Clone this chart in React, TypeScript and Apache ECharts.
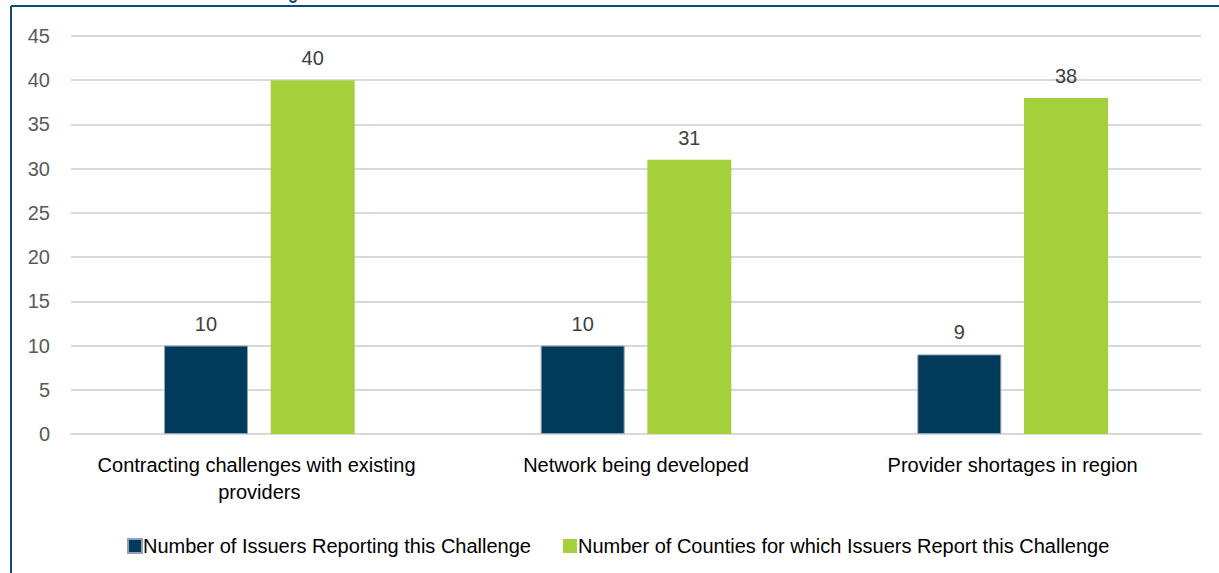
import React, { useEffect, useRef } from "react";
import * as echarts from "echarts";

const categories = [
  "Contracting challenges with existing providers",
  "Network being developed",
  "Provider shortages in region",
];
const issuers = [10, 10, 9];
const counties = [40, 31, 38];
const seriesNames = [
  "Number of Issuers Reporting this Challenge",
  "Number of Counties for which Issuers Report this Challenge",
];

const FONT = "'Liberation Sans Narrow', 'Arial Narrow', 'Liberation Sans', Arial, sans-serif";

export default function App() {
  const ref = useRef<HTMLDivElement>(null);
  useEffect(() => {
    if (!ref.current) return;
    const chart = echarts.init(ref.current, undefined, { renderer: "svg" });
    chart.setOption({
      animation: false,
      backgroundColor: "#ffffff",
      textStyle: { fontFamily: FONT },
      grid: { left: 71, right: 18, top: 36, bottom: 139, containLabel: false },
      legend: {
        left: 122,
        top: 531,
        itemWidth: 14,
        itemHeight: 14,
        itemGap: 32,
        icon: "rect",
        textStyle: { fontFamily: FONT, fontSize: 20, color: "#000000", padding: [0, 0, 0, -4] },
        data: seriesNames,
      },
      xAxis: {
        type: "category",
        data: categories,
        axisLine: { lineStyle: { color: "#d9d9d9", width: 2 } },
        axisTick: { show: false },
        axisLabel: {
          fontFamily: FONT,
          fontSize: 20,
          color: "#000000",
          margin: 17,
          lineHeight: 27,
          width: 340,
          overflow: "break",
          interval: 0,
        },
      },
      yAxis: {
        type: "value",
        min: 0,
        max: 45,
        interval: 5,
        axisLine: { show: false },
        axisTick: { show: false },
        splitLine: { lineStyle: { color: "#d9d9d9", width: 2 } },
        axisLabel: { fontFamily: FONT, fontSize: 20, color: "#595959", margin: 21 },
      },
      series: [
        {
          name: seriesNames[0],
          type: "bar",
          data: issuers,
          barWidth: 84,
          barGap: "27%",
          itemStyle: { color: "#023a5c", borderColor: "#8fa3b5", borderWidth: 1 },
          label: { show: true, position: "top", distance: 12, fontFamily: FONT, fontSize: 20, color: "#404040" },
        },
        {
          name: seriesNames[1],
          type: "bar",
          data: counties,
          barWidth: 84,
          itemStyle: { color: "#a4d03c" },
          label: { show: true, position: "top", distance: 12, fontFamily: FONT, fontSize: 20, color: "#404040" },
        },
      ],
      graphic: [
        { type: "line", shape: { x1: 11, y1: 6, x2: 1219, y2: 6 }, style: { stroke: "#0f4c75", lineWidth: 2 } },
        { type: "line", shape: { x1: 11, y1: 6, x2: 11, y2: 573 }, style: { stroke: "#0f4c75", lineWidth: 2 } },
        {
          type: "arc",
          shape: { cx: 293, cy: -1, r: 3, startAngle: 0, endAngle: Math.PI },
          style: { stroke: "#0f4c75", lineWidth: 2, fill: "none" },
        },
      ],
    });
    return () => chart.dispose();
  }, []);
  return (
    <div
      ref={ref}
      style={{ position: "absolute", left: 0, top: 0, width: 1219, height: 573 }}
    />
  );
}
